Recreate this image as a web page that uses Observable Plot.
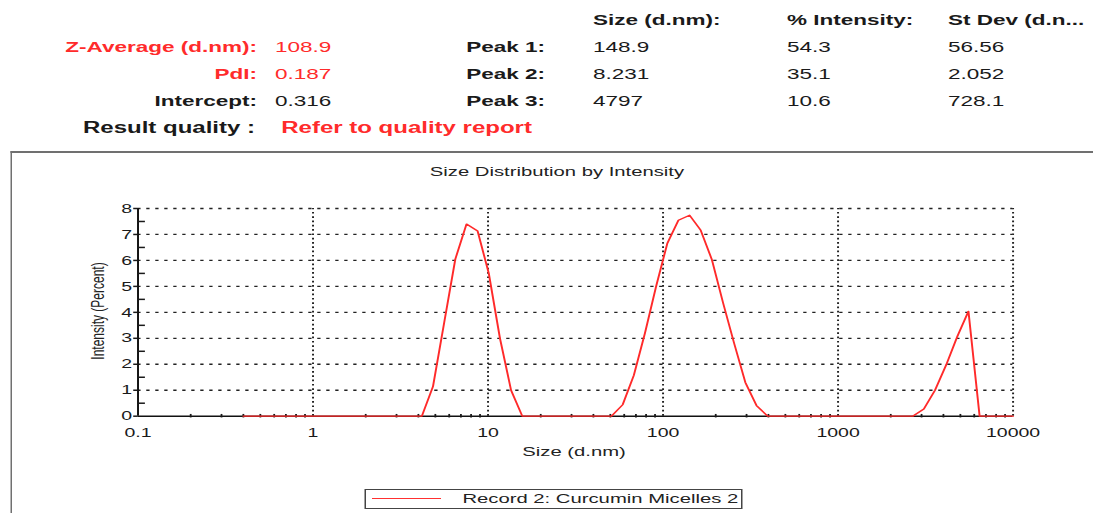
<!DOCTYPE html>
<html>
<head>
<meta charset="utf-8">
<script src="https://cdn.jsdelivr.net/npm/d3@7"></script>
<script src="https://cdn.jsdelivr.net/npm/@observablehq/plot@0.6"></script>
<style>
  html, body { margin: 0; padding: 0; background: #fff; }
  body { width: 1093px; height: 513px; overflow: hidden; position: relative; }
  #stage { position: absolute; left: 0; top: 0; width: 728.67px; height: 513px;
           transform: scaleX(1.5); transform-origin: 0 0;
           font-family: "Liberation Sans", Arial, Helvetica, sans-serif; color: #1a1a1a; }
  .t { position: absolute; white-space: nowrap; line-height: 18px; font-size: 15px; }
  .b { font-weight: bold; }
  .red { color: #ff2b2b; }
  .r { text-align: right; }
  .big { font-size: 16px; }
  #frame { position: absolute; left: 6.67px; top: 151px; width: 900px; height: 500px;
           border-top: 2px solid #707070; border-left: 1.5px solid #707070; box-sizing: border-box; }
  #plotwrap { position: absolute; left: 0; top: 145px; }
  #title { position: absolute; left: 371.3px; top: 163px; transform: translateX(-50%);
           font-size: 13.5px; line-height: 18px; white-space: nowrap; color: #222; }
  #xlabel { position: absolute; left: 382.7px; top: 443px; transform: translateX(-50%);
            font-size: 13.5px; line-height: 18px; white-space: nowrap; color: #222; }
  #ylabel { position: absolute; left: 65.3px; top: 311px; transform: translate(-50%,-50%) rotate(-90deg);
            font-size: 12px; line-height: 14px; white-space: nowrap; color: #222; }
  #legend { position: absolute; left: 243.3px; top: 489px; width: 252px; height: 20px;
            border: 1px solid #444; box-sizing: border-box; }
  #legline { position: absolute; left: 3.4px; top: 8px; width: 46.6px; height: 0;
             border-top: 1.3px solid #ff3030; }
  #legtext { position: absolute; left: 64px; top: 0px; font-size: 13.5px; line-height: 18px;
             white-space: nowrap; color: #222; }
</style>
</head>
<body>
<div id="stage">
  <!-- header table -->
  <div class="t b" style="left:395.3px; top:11px;">Size (d.nm):</div>
  <div class="t b" style="left:524.7px; top:11px;">% Intensity:</div>
  <div class="t b" style="left:632px; top:11px;">St Dev (d.n...</div>

  <div class="t b red r" style="left:0; width:171.3px; top:38px;">Z-Average (d.nm):</div>
  <div class="t red" style="left:183.3px; top:38px;">108.9</div>
  <div class="t b r" style="left:0; width:363.3px; top:38px;">Peak 1:</div>
  <div class="t" style="left:395.3px; top:38px;">148.9</div>
  <div class="t" style="left:524.7px; top:38px;">54.3</div>
  <div class="t" style="left:632px; top:38px;">56.56</div>

  <div class="t b red r" style="left:0; width:171.3px; top:65px;">PdI:</div>
  <div class="t red" style="left:183.3px; top:65px;">0.187</div>
  <div class="t b r" style="left:0; width:363.3px; top:65px;">Peak 2:</div>
  <div class="t" style="left:395.3px; top:65px;">8.231</div>
  <div class="t" style="left:524.7px; top:65px;">35.1</div>
  <div class="t" style="left:632px; top:65px;">2.052</div>

  <div class="t b r" style="left:0; width:171.3px; top:92px;">Intercept:</div>
  <div class="t" style="left:183.3px; top:92px;">0.316</div>
  <div class="t b r" style="left:0; width:363.3px; top:92px;">Peak 3:</div>
  <div class="t" style="left:395.3px; top:92px;">4797</div>
  <div class="t" style="left:524.7px; top:92px;">10.6</div>
  <div class="t" style="left:632px; top:92px;">728.1</div>

  <div class="t b r big" style="left:0; width:170px; top:119px;">Result quality :</div>
  <div class="t b red big" style="left:187.5px; top:119px;">Refer to quality report</div>

  <div id="frame"></div>
  <div id="title">Size Distribution by Intensity</div>
  <div id="plotwrap"></div>
  <div id="ylabel">Intensity (Percent)</div>
  <div id="xlabel">Size (d.nm)</div>
  <div id="legend"><div id="legline"></div><div id="legtext">Record 2: Curcumin Micelles 2</div></div>
</div>

<script>
// Size bins (d.nm)
const sizes = [0.4, 0.4632, 0.5365, 0.6213, 0.7195, 0.8332, 0.9649, 1.117, 1.294, 1.499,
  1.736, 2.01, 2.328, 2.696, 3.122, 3.615, 4.187, 4.849, 5.615, 6.503,
  7.531, 8.721, 10.1, 11.7, 13.54, 15.69, 18.17, 21.04, 24.36, 28.21,
  32.67, 37.84, 43.82, 50.75, 58.77, 68.06, 78.82, 91.28, 105.7, 122.4,
  141.8, 164.2, 190.1, 220.2, 255, 295.3, 342, 396.1, 458.7, 531.2,
  615.1, 712.4, 825, 955.4, 1106, 1281, 1484, 1718, 1990, 2305,
  2669, 3091, 3580, 4145, 4801, 5560, 6439, 7456, 8635, 10000];
// Intensity (Percent) per bin
const intensity = [0, 0, 0, 0, 0, 0, 0, 0, 0, 0,
  0, 0, 0, 0, 0, 0, 0, 1.15, 3.6, 6.05,
  7.4, 7.13, 5.5, 3.0, 1.0, 0, 0, 0, 0, 0,
  0, 0, 0, 0, 0.44, 1.57, 3.2, 5.0, 6.65, 7.55,
  7.74, 7.16, 6.03, 4.37, 2.8, 1.3, 0.41, 0, 0, 0,
  0, 0, 0, 0, 0, 0, 0, 0, 0, 0,
  0, 0.28, 1.0, 1.97, 3.07, 4.04, 0, 0, 0, 0];

const xTicks = [0.1, 1, 10, 100, 1000, 10000];
const xTickLabels = ["0.1", "1", "10", "100", "1000", "10000"];
const xMinorTicks = [0.2, 0.3, 0.4, 0.5, 0.6, 0.7, 0.8, 0.9,
  2, 3, 4, 5, 6, 7, 8, 9,
  20, 30, 40, 50, 60, 70, 80, 90,
  200, 300, 400, 500, 600, 700, 800, 900,
  2000, 3000, 4000, 5000, 6000, 7000, 8000, 9000];
const yTicks = [0, 1, 2, 3, 4, 5, 6, 7, 8];
const yTickLabels = ["0", "1", "2", "3", "4", "5", "6", "7", "8"];
const yMinorTicks = [0.5, 1.5, 2.5, 3.5, 4.5, 5.5, 6.5, 7.5];

const data = sizes.map((s, i) => ({size: s, pct: intensity[i]}));

const W = 1093 / 1.5;
const chart = Plot.plot({
  width: W,
  height: 368,
  marginLeft: 91.5,
  marginRight: W - 674.9,
  marginTop: 63,
  marginBottom: 97.3,
  x: {type: "log", domain: [0.1, 10000]},
  y: {domain: [0, 8]},
  style: {fontFamily: "'Liberation Sans', Arial, sans-serif", fontSize: "13px", color: "#1a1a1a", background: "transparent", overflow: "visible"},
  marks: [
    Plot.ruleY(yTicks.filter(d => d > 0), {x1: 0.1, x2: 10000, stroke: "#222", strokeWidth: 1.3, strokeDasharray: "2.2,3.8"}),
    Plot.ruleX(xTicks.filter(d => d > 0.1), {y1: 0, y2: 8, stroke: "#222", strokeWidth: 1.3, strokeDasharray: "1.7,2.6"}),
    Plot.ruleX([0.1], {y1: 0, y2: 8, stroke: "#111", strokeWidth: 1.3}),
    Plot.ruleY([0], {stroke: "#111", strokeWidth: 1.6}),
    Plot.axisY(yTicks, {anchor: "left", tickSize: 2.7, tickPadding: 1.2, label: null, fontSize: 13,
      tickFormat: d => yTickLabels[yTicks.indexOf(d)], strokeWidth: 1.5}),
    Plot.axisY(yMinorTicks, {anchor: "left", tickSize: 5.1, dx: 5.1, tickFormat: () => "", label: null, strokeWidth: 1.5}),
    Plot.axisX(xMinorTicks, {anchor: "bottom", tickSize: 3.5, dy: -1.75, tickFormat: () => "", label: null, strokeWidth: 1.2}),
    Plot.axisX(xTicks, {anchor: "bottom", tickSize: 0, tickPadding: 11.6, label: null, fontSize: 13,
      tickFormat: d => xTickLabels[xTicks.indexOf(d)]}),
    Plot.line(data, {x: "size", y: "pct", stroke: "#ff2a2a", strokeWidth: 1.3})
  ]
});
document.getElementById("plotwrap").appendChild(chart);
</script>
</body>
</html>
